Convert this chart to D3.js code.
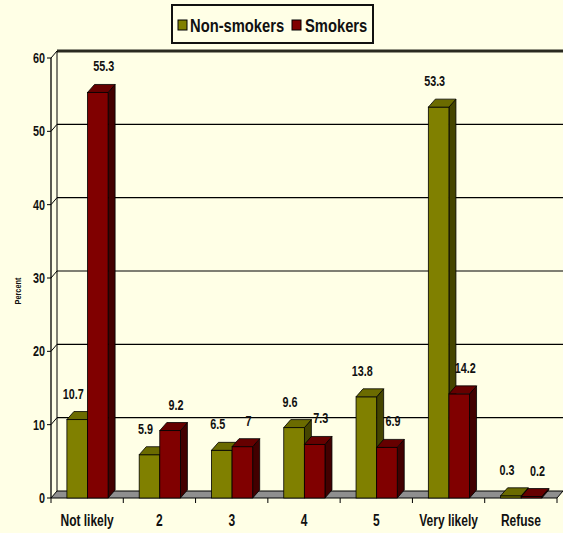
<!DOCTYPE html>
<html><head><meta charset="utf-8">
<script src="https://cdn.jsdelivr.net/npm/d3@7"></script>
<style>body{margin:0;background:#FFFFE6;} svg{display:block}</style>
</head><body><svg id="c" width="563" height="533"></svg>
<script>
const categories = ["Not likely","2","3","4","5","Very likely","Refuse"];
const seriesNames = ["Non-smokers","Smokers"];
const nonSmokers = [10.7,5.9,6.5,9.6,13.8,53.3,0.3];
const smokers = [55.3,9.2,7,7.3,6.9,14.2,0.2];
const yTicks = [0,10,20,30,40,50,60];
const yTitle = "Percent";

const W=563,H=533;
const FONT="'Liberation Sans',Arial,sans-serif";
const svg=d3.select("#c");
svg.append("rect").attr("width",W).attr("height",H).attr("fill","#FFFFE6");
const x0=51,x1=557,yBase=498,yTop=58;
const x=d3.scaleBand().domain(categories).range([x0,x1]);
const y=d3.scaleLinear().domain([0,60]).range([yBase,yTop]);
const xs=d3.scaleBand().domain([0,1]).range([x.bandwidth()*0.22,x.bandwidth()*0.79]);
const wall={dx:6,dy:-7}, bd={dx:7,dy:-8};
const colors=[{front:"#808000",top:"#6B6B00",side:"#454500"},{front:"#800000",top:"#660000",side:"#420000"}];

function txt(g,xp,yp,s,size,sx,anchor,rot){
  const t=g.append("g").attr("transform",`translate(${xp},${yp})${rot?" rotate("+rot+")":""}`)
    .append("text").attr("transform",`scale(${sx},1)`).attr("text-anchor",anchor||"middle")
    .attr("font-family",FONT).attr("font-weight","bold").attr("font-size",size).attr("fill","#111").text(s);
  return t;
}

// back wall gridlines & side-wall diagonals
const grid=svg.append("g");
yTicks.forEach(v=>{
  if(v===0) return;
  const yy=y(v);
  grid.append("path").attr("d",`M${x0},${yy}L${x0+wall.dx},${yy+wall.dy}`).attr("stroke","#000").attr("fill","none");
  grid.append("line").attr("x1",x0+wall.dx).attr("x2",W).attr("y1",yy+wall.dy).attr("y2",yy+wall.dy)
    .attr("stroke",v===60?"#2a2a20":"#000").attr("stroke-width",v===60?3:1.2);
});
grid.append("line").attr("x1",x0+wall.dx).attr("x2",x0+wall.dx).attr("y1",y(60)+wall.dy).attr("y2",y(0)+wall.dy).attr("stroke","#000");
grid.append("line").attr("x1",x0).attr("x2",x0).attr("y1",y(60)).attr("y2",y(0)).attr("stroke","#000").attr("stroke-width",1.3);
yTicks.forEach(v=>{
  grid.append("line").attr("x1",x0-4).attr("x2",x0).attr("y1",y(v)).attr("y2",y(v)).attr("stroke","#000");
  txt(grid,45,y(v)+5,String(v),15,0.72,"end");
});
// floor
svg.append("path").attr("d",`M${x0},${yBase}L${x1},${yBase}L${x1+wall.dx},${yBase+wall.dy}L${x0+wall.dx},${yBase+wall.dy}Z`)
  .attr("fill","#8f8f8f").attr("stroke","#000");
d3.range(categories.length+1).forEach(i=>{
  const xx=x0+i*x.bandwidth();
  svg.append("line").attr("x1",xx).attr("x2",xx).attr("y1",yBase).attr("y2",yBase+5).attr("stroke","#000");
});
// bars
const data=[nonSmokers,smokers];
const bars=svg.append("g");
categories.forEach((c,i)=>{
  [0,1].forEach(s=>{
    const v=data[s][i];
    const bx=x(c)+xs(s), bw=xs.bandwidth(), yt=y(v);
    const col=colors[s];
    bars.append("path").attr("d",`M${bx+bw},${yt}L${bx+bw+bd.dx},${yt+bd.dy}L${bx+bw+bd.dx},${yBase+bd.dy}L${bx+bw},${yBase}Z`)
      .attr("fill",col.side).attr("stroke","#000").attr("stroke-width",0.8);
    bars.append("rect").attr("x",bx).attr("y",yt).attr("width",bw).attr("height",yBase-yt)
      .attr("fill",col.front).attr("stroke","#000").attr("stroke-width",0.8);
    bars.append("path").attr("d",`M${bx},${yt}L${bx+bw},${yt}L${bx+bw+bd.dx},${yt+bd.dy}L${bx+bd.dx},${yt+bd.dy}Z`)
      .attr("fill",col.top).attr("stroke","#000").attr("stroke-width",0.8);
  });
});
// value labels
categories.forEach((c,i)=>{
  [0,1].forEach(s=>{
    const v=data[s][i];
    const cx=x(c)+xs(s)+xs.bandwidth()/2+(s===0?-4:6);
    txt(svg,cx,y(v)-21,String(v),15,0.72,"middle");
  });
});
// category labels
categories.forEach(c=>{
  txt(svg,x(c)+x.bandwidth()/2,526,c,16,0.75,"middle");
});
// y title
txt(svg,21,291,yTitle,9,0.82,"middle",-90);
// legend
const lg=svg.append("g");
lg.append("rect").attr("x",172).attr("y",5).attr("width",201).attr("height",38).attr("fill","#FFFFE6").attr("stroke","#111").attr("stroke-width",2);
const items=[{x:178,tx:190},{x:292,tx:305}];
seriesNames.forEach((n,k)=>{
  lg.append("rect").attr("x",items[k].x).attr("y",20).attr("width",9).attr("height",10).attr("fill",colors[k].front).attr("stroke","#000");
  txt(lg,items[k].tx,32,n,18,0.82,"start");
});
</script></body></html>
